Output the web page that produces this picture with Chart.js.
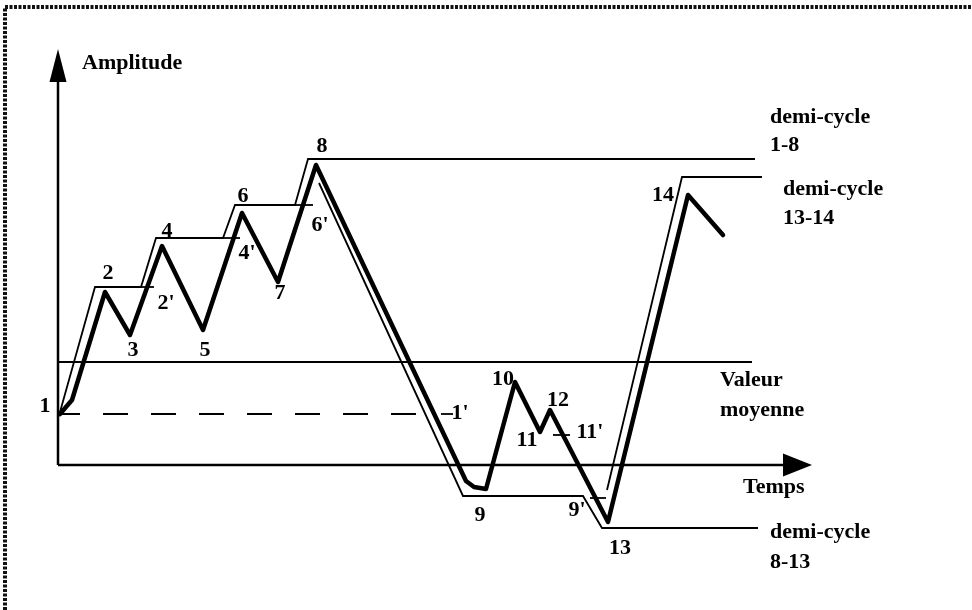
<!DOCTYPE html>
<html>
<head>
<meta charset="utf-8">
<script src="https://cdn.jsdelivr.net/npm/chart.js@4/dist/chart.umd.min.js"></script>
<style>
  html, body { margin: 0; padding: 0; background: #fff; }
  #wrap { width: 972px; height: 610px; }
</style>
</head>
<body>
<div id="wrap"><canvas id="myChart" width="972" height="610"></canvas></div>
<script>
// time (t) and amplitude (a), origin at the axes crossing
const signalT = [1, 13, 46, 71, 103, 144, 183, 219, 257, 407, 415, 427, 456, 481, 491, 549, 629, 664];
const signalA = [51, 65, 173, 130, 219, 135, 252, 183, 300, -16, -22, -24, 83, 33, 55, -57, 270, 230];

// rainflow half-cycles (thin lines)
const hc18T = [1, 36, 82, 97, 164, 176, 236, 249, 696];
const hc18A = [53, 178, 178, 227, 227, 260, 260, 306, 306];
const hc813T = [260, 404, 524, 543, 699];
const hc813A = [282, -31, -31, -63, -63];
const hc1314T = [548, 623, 703];
const hc1314A = [-25, 288, 288];

// short marks 2', 4', 6', 1', 11', 9'
const tickFrom = [82, 164, 236, 382, 494, 531];
const tickTo = [95, 181, 254, 394, 511, 547];
const tickA = [178, 227, 260, 51, 30, -33];

const meanA = 103;      // valeur moyenne
const startA = 51;      // level of point 1 (dashed)
const meanEnd = 693;
const dashEnd = 359;
const timeEnd = 753;    // arrow tip
const ampEnd = 416;     // arrow tip

const pointLabels = ['1', '2', '3', '4', '5', '6', '7', '8', "2'", "4'", "6'", '9', '10', '11', '12', "11'", "1'", "9'", '13', '14'];
const pointLabelT = [-14, 49, 74, 108, 146, 184, 221, 263, 107, 188, 261, 421, 444, 468, 499, 531, 401, 518, 561, 604];
const pointLabelA = [59, 192, 115, 234, 115, 269, 172, 319, 162, 212, 240, -50, 86, 25, 65, 33, 52, -45, -83, 270];

const sideLabels = ['Amplitude', 'demi-cycle', '1-8', 'demi-cycle', '13-14', 'Valeur', 'moyenne', 'Temps', 'demi-cycle', '8-13'];
const sideLabelT = [23, 711, 711, 724, 724, 661, 661, 684, 711, 711];
const sideLabelA = [402, 348, 320, 276, 247, 85, 55, -22, -67, -97];

function pts(ts, as) {
  return ts.map((t, i) => ({x: t, y: as[i]}));
}

function line(data, width, extra) {
  return Object.assign({
    data: data,
    showLine: true,
    borderColor: '#000',
    backgroundColor: '#000',
    borderWidth: width,
    pointRadius: 0,
    tension: 0,
    fill: false
  }, extra || {});
}

const datasets = [
  line([{x: -1, y: 0}, {x: -1, y: ampEnd - 33}], 2.5),
  line([{x: -1, y: 0}, {x: timeEnd - 29, y: 0}], 2.5),
  line([{x: 0, y: meanA}, {x: meanEnd, y: meanA}], 1.8),
  line([{x: 0, y: startA}, {x: dashEnd, y: startA}], 2, {borderDash: [25, 23], borderDashOffset: 4}),
  line(pts(hc18T, hc18A), 1.8, {borderJoinStyle: 'miter'}),
  line(pts(hc813T, hc813A), 1.8, {borderJoinStyle: 'miter'}),
  line(pts(hc1314T, hc1314A), 1.8, {borderJoinStyle: 'miter'}),
  line(pts(signalT, signalA), 4.5, {borderJoinStyle: 'round', borderCapStyle: 'round'})
];
tickFrom.forEach((t, i) => {
  datasets.push(line([{x: t, y: tickA[i]}, {x: tickTo[i], y: tickA[i]}], 1.8));
});

const decor = {
  id: 'decor',
  afterDatasetsDraw(chart) {
    const ctx = chart.ctx;
    const xs = chart.scales.x, ys = chart.scales.y;
    const px = v => xs.getPixelForValue(v);
    const py = v => ys.getPixelForValue(v);
    ctx.save();
    ctx.fillStyle = '#000';
    // arrow heads
    ctx.beginPath();
    ctx.moveTo(px(-1), py(ampEnd));
    ctx.lineTo(px(-1) - 8.5, py(ampEnd - 33));
    ctx.lineTo(px(-1) + 8.5, py(ampEnd - 33));
    ctx.closePath();
    ctx.fill();
    ctx.beginPath();
    ctx.moveTo(px(timeEnd), py(0));
    ctx.lineTo(px(timeEnd - 29), py(0) - 11.5);
    ctx.lineTo(px(timeEnd - 29), py(0) + 11.5);
    ctx.closePath();
    ctx.fill();

    // frame
    ctx.strokeStyle = '#111';
    ctx.lineWidth = 4;
    ctx.setLineDash([3, 1.5]);
    ctx.beginPath();
    ctx.moveTo(5, 610);
    ctx.lineTo(5, 7);
    ctx.lineTo(972, 7);
    ctx.stroke();
    ctx.setLineDash([]);

    // texts
    ctx.font = 'bold 22px "Liberation Serif", "Times New Roman", serif';
    ctx.textBaseline = 'middle';
    ctx.textAlign = 'center';
    pointLabels.forEach((s, i) => ctx.fillText(s, px(pointLabelT[i]), py(pointLabelA[i])));
    ctx.textAlign = 'left';
    sideLabels.forEach((s, i) => ctx.fillText(s, px(sideLabelT[i]), py(sideLabelA[i])));
    ctx.restore();
  }
};

const myChart = new Chart(document.getElementById('myChart'), {
  type: 'scatter',
  data: {datasets: datasets},
  options: {
    responsive: false,
    animation: false,
    events: [],
    clip: false,
    layout: {padding: 0},
    scales: {
      x: {type: 'linear', min: -59, max: 913, display: false},
      y: {type: 'linear', min: -145, max: 465, display: false}
    },
    plugins: {legend: {display: false}, tooltip: {enabled: false}}
  },
  plugins: [decor]
});
</script>
</body>
</html>
